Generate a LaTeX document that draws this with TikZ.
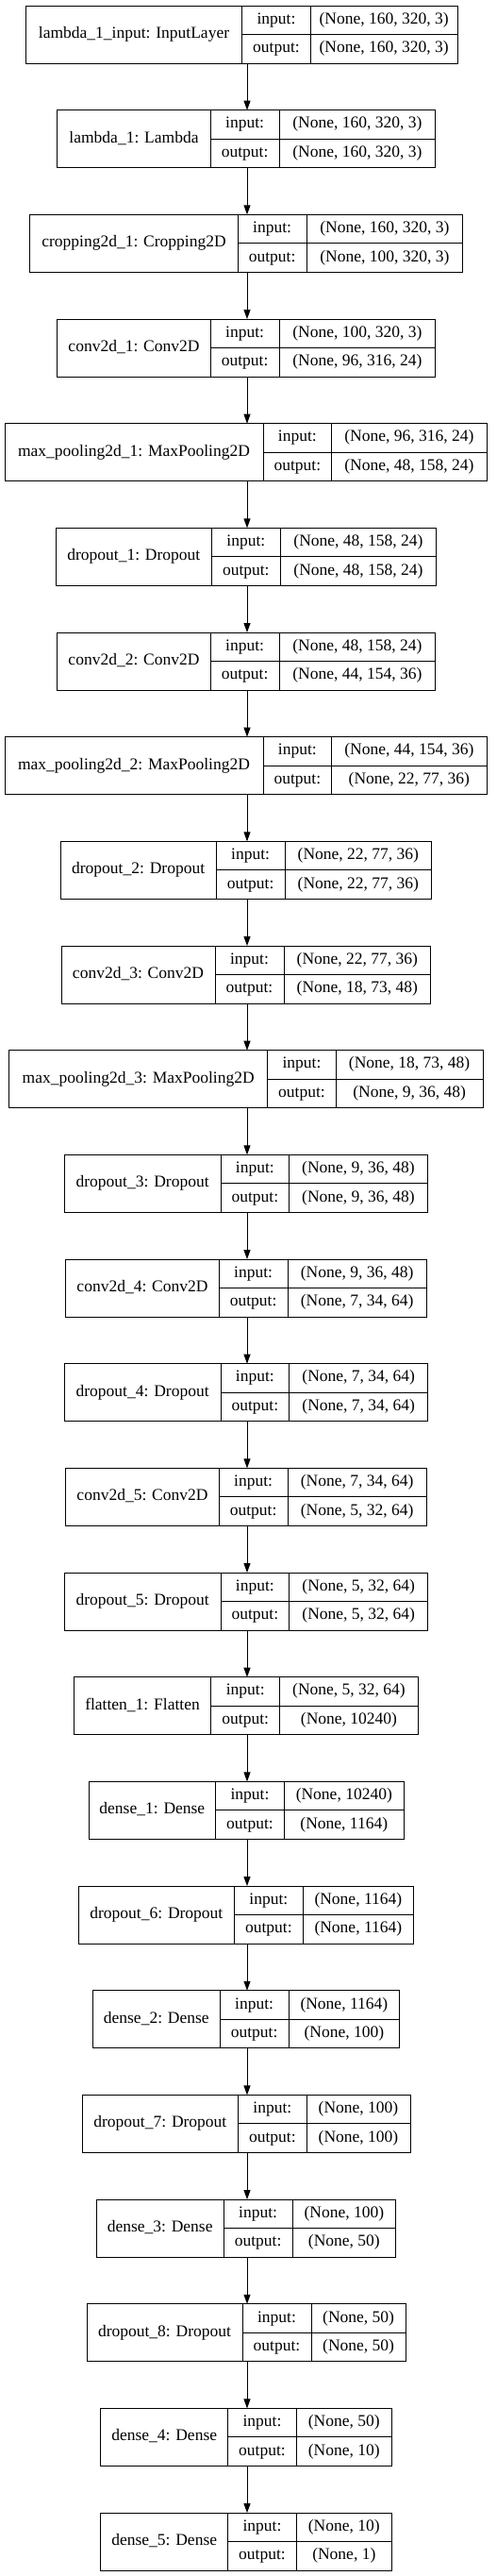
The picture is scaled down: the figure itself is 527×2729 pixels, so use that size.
\documentclass[tikz,border=0pt]{standalone}
\usepackage{fontspec}
\setmainfont{Liberation Serif}
\usepackage{tikz}
\usetikzlibrary{arrows.meta}
\usetikzlibrary{positioning}
\tikzset{
    namecell/.style={
           rectangle,
           draw=black, line width=0.9pt,
           minimum height=61pt,
           inner sep=0pt, outer sep=0pt,
           text height=12pt, text depth=4pt,
           font=\fontsize{17.5}{20}\selectfont,
           text centered,
           },
    cell/.style={
           namecell,
           minimum height=30.5pt,
           },
}
% #1 name, #2 left, #3 first split, #4 second split, #5 right,
% #6 row, #7 layer, #8 input shape, #9 output shape
\newcommand{\layerbox}[9]{%
 \node[namecell, anchor=north west, minimum width={(#3-#2)*1pt}]
   (#1) at (#2,{6+110.67*#6}) {#7};
 \node[cell, anchor=north west, minimum width={(#4-#3)*1pt}]
   (#1-il) at (#1.north east) {input:};
 \node[cell, anchor=north west, minimum width={(#4-#3)*1pt}]
   (#1-ol) at (#1-il.south west) {output:};
 \node[cell, anchor=north west, minimum width={(#5-#4)*1pt}]
   (#1-iv) at (#1-il.north east) {#8};
 \node[cell, anchor=north west, minimum width={(#5-#4)*1pt}]
   (#1-ov) at (#1-iv.south west) {#9};
}

\begin{document}
\begin{tikzpicture}[x=1pt,y=-1pt,->,>={Triangle[length=10pt,width=7pt]}]
 \useasboundingbox (0,0) rectangle (527,2729);
 \coordinate (axis) at (262,0);

 \layerbox{lambdainput}{27.3}{256.7}{329.3}{485}{0}
   {lambda\_1\_input: InputLayer}{(None, 160, 320, 3)}{(None, 160, 320, 3)}
 \layerbox{lambda1}{60.7}{223.3}{296}{461.7}{1}
   {lambda\_1: Lambda}{(None, 160, 320, 3)}{(None, 160, 320, 3)}
 \layerbox{crop1}{31.7}{252.3}{325}{490.7}{2}
   {cropping2d\_1: Cropping2D}{(None, 160, 320, 3)}{(None, 100, 320, 3)}
 \layerbox{conv1}{60.7}{223.3}{296}{461.7}{3}
   {conv2d\_1: Conv2D}{(None, 100, 320, 3)}{(None, 96, 316, 24)}
 \layerbox{pool1}{5}{279}{351.7}{516}{4}
   {max\_pooling2d\_1: MaxPooling2D}{(None, 96, 316, 24)}{(None, 48, 158, 24)}
 \layerbox{drop1}{59.3}{224.3}{297.3}{462.7}{5}
   {dropout\_1: Dropout}{(None, 48, 158, 24)}{(None, 48, 158, 24)}
 \layerbox{conv2}{60.7}{223.3}{296}{461.7}{6}
   {conv2d\_2: Conv2D}{(None, 48, 158, 24)}{(None, 44, 154, 36)}
 \layerbox{pool2}{5}{279}{351.7}{516}{7}
   {max\_pooling2d\_2: MaxPooling2D}{(None, 44, 154, 36)}{(None, 22, 77, 36)}
 \layerbox{drop2}{64}{229.3}{302}{457.7}{8}
   {dropout\_2: Dropout}{(None, 22, 77, 36)}{(None, 22, 77, 36)}
 \layerbox{conv3}{65}{228}{301}{456.7}{9}
   {conv2d\_3: Conv2D}{(None, 22, 77, 36)}{(None, 18, 73, 48)}
 \layerbox{pool3}{9.7}{283.7}{356.3}{512}{10}
   {max\_pooling2d\_3: MaxPooling2D}{(None, 18, 73, 48)}{(None, 9, 36, 48)}
 \layerbox{drop3}{68.3}{234}{306.7}{453.3}{11}
   {dropout\_3: Dropout}{(None, 9, 36, 48)}{(None, 9, 36, 48)}
 \layerbox{conv4}{69.7}{232.3}{305}{452.3}{12}
   {conv2d\_4: Conv2D}{(None, 9, 36, 48)}{(None, 7, 34, 64)}
 \layerbox{drop4}{68.3}{234}{306.7}{453.7}{13}
   {dropout\_4: Dropout}{(None, 7, 34, 64)}{(None, 7, 34, 64)}
 \layerbox{conv5}{69.7}{232.3}{305}{452.3}{14}
   {conv2d\_5: Conv2D}{(None, 7, 34, 64)}{(None, 5, 32, 64)}
 \layerbox{drop5}{68.3}{234}{306.7}{453.7}{15}
   {dropout\_5: Dropout}{(None, 5, 32, 64)}{(None, 5, 32, 64)}
 \layerbox{flat1}{78.3}{223.7}{296.7}{443.3}{16}
   {flatten\_1: Flatten}{(None, 5, 32, 64)}{(None, 10240)}
 \layerbox{dense1}{94}{228.7}{301.3}{428.3}{17}
   {dense\_1: Dense}{(None, 10240)}{(None, 1164)}
 \layerbox{drop6}{83}{248.7}{321}{438.7}{18}
   {dropout\_6: Dropout}{(None, 1164)}{(None, 1164)}
 \layerbox{dense2}{98.3}{233.3}{306}{423.7}{19}
   {dense\_2: Dense}{(None, 1164)}{(None, 100)}
 \layerbox{drop7}{87}{252.7}{325}{435}{20}
   {dropout\_7: Dropout}{(None, 100)}{(None, 100)}
 \layerbox{dense3}{102}{237.3}{310}{419.7}{21}
   {dense\_3: Dense}{(None, 100)}{(None, 50)}
 \layerbox{drop8}{92}{257}{330}{430.3}{22}
   {dropout\_8: Dropout}{(None, 50)}{(None, 50)}
 \layerbox{dense4}{106.7}{241.7}{314.3}{415.3}{23}
   {dense\_4: Dense}{(None, 50)}{(None, 10)}
 \layerbox{dense5}{106.7}{241.7}{314.3}{415.3}{24}
   {dense\_5: Dense}{(None, 10)}{(None, 1)}

 \path[line width=0.9pt]
  (lambdainput.south -| axis) edge (lambda1.north -| axis)
  (lambda1.south -| axis) edge (crop1.north -| axis)
  (crop1.south -| axis) edge (conv1.north -| axis)
  (conv1.south -| axis) edge (pool1.north -| axis)
  (pool1.south -| axis) edge (drop1.north -| axis)
  (drop1.south -| axis) edge (conv2.north -| axis)
  (conv2.south -| axis) edge (pool2.north -| axis)
  (pool2.south -| axis) edge (drop2.north -| axis)
  (drop2.south -| axis) edge (conv3.north -| axis)
  (conv3.south -| axis) edge (pool3.north -| axis)
  (pool3.south -| axis) edge (drop3.north -| axis)
  (drop3.south -| axis) edge (conv4.north -| axis)
  (conv4.south -| axis) edge (drop4.north -| axis)
  (drop4.south -| axis) edge (conv5.north -| axis)
  (conv5.south -| axis) edge (drop5.north -| axis)
  (drop5.south -| axis) edge (flat1.north -| axis)
  (flat1.south -| axis) edge (dense1.north -| axis)
  (dense1.south -| axis) edge (drop6.north -| axis)
  (drop6.south -| axis) edge (dense2.north -| axis)
  (dense2.south -| axis) edge (drop7.north -| axis)
  (drop7.south -| axis) edge (dense3.north -| axis)
  (dense3.south -| axis) edge (drop8.north -| axis)
  (drop8.south -| axis) edge (dense4.north -| axis)
  (dense4.south -| axis) edge (dense5.north -| axis)
 ;
\end{tikzpicture}
\end{document}
